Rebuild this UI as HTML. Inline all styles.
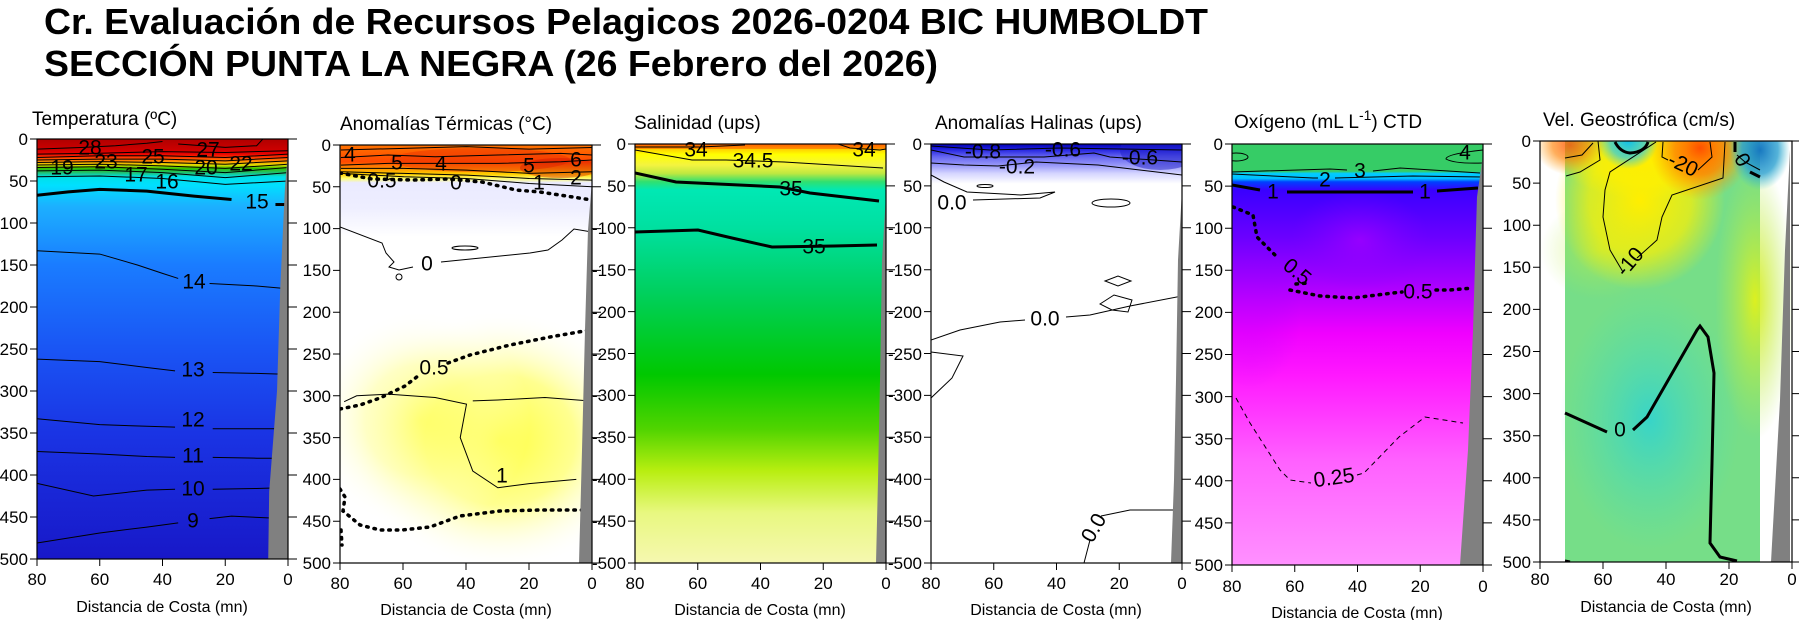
<!DOCTYPE html>
<html><head><meta charset="utf-8"><style>
html,body{margin:0;padding:0;background:#fff;}
svg{display:block;font-family:"Liberation Sans",Arial,sans-serif;}
.ln{fill:none;stroke:#000;stroke-width:1;}
.th{fill:none;stroke:#000;stroke-width:3;}
.dt{fill:none;stroke:#000;stroke-width:3.5;stroke-dasharray:1.5 6;stroke-linecap:round;}
.ds{fill:none;stroke:#000;stroke-width:1;stroke-dasharray:5 4;}
.lb{font-size:21px;text-anchor:middle;dominant-baseline:central;fill:#000;}
.tk{font-size:17px;fill:#000;}
.ax{font-size:16px;fill:#000;text-anchor:middle;}
.pt{font-size:19px;fill:#000;}
.fr{fill:none;stroke:#000;stroke-width:1.2;}
.gray{fill:#808080;}
</style></head><body>
<svg width="1799" height="620" viewBox="0 0 1799 620" xmlns="http://www.w3.org/2000/svg">
<defs>
<linearGradient id="g1" x1="0" y1="0" x2="0" y2="1">
<stop offset="0" stop-color="#b00000"/><stop offset="0.025" stop-color="#cc0000"/><stop offset="0.035" stop-color="#e80000"/>
<stop offset="0.045" stop-color="#ff4000"/><stop offset="0.055" stop-color="#ffa000"/><stop offset="0.062" stop-color="#e0e000"/>
<stop offset="0.07" stop-color="#30c000"/><stop offset="0.08" stop-color="#20c070"/><stop offset="0.09" stop-color="#00e0e8"/>
<stop offset="0.11" stop-color="#00e0ff"/><stop offset="0.16" stop-color="#1cb0ff"/><stop offset="0.3" stop-color="#1a7cff"/>
<stop offset="0.5" stop-color="#1a55f4"/><stop offset="0.7" stop-color="#1a34e4"/><stop offset="1" stop-color="#1818c8"/>
</linearGradient>
<linearGradient id="g2" x1="0" y1="0" x2="0" y2="1">
<stop offset="0" stop-color="#ff7400"/><stop offset="0.04" stop-color="#ff4800"/><stop offset="0.055" stop-color="#ff8c00"/>
<stop offset="0.07" stop-color="#ffd000"/><stop offset="0.08" stop-color="#ffff70"/><stop offset="0.09" stop-color="#eaeaff"/>
<stop offset="0.15" stop-color="#eeeeff"/><stop offset="0.22" stop-color="#ffffff"/><stop offset="1" stop-color="#ffffff"/>
</linearGradient>
<radialGradient id="g2y" cx="0.5" cy="0.5" r="0.5">
<stop offset="0" stop-color="#ffff40"/><stop offset="0.5" stop-color="#ffff90"/><stop offset="1" stop-color="#ffffff" stop-opacity="0"/>
</radialGradient>
<linearGradient id="g3" x1="0" y1="0" x2="0" y2="1">
<stop offset="0" stop-color="#ff5000"/><stop offset="0.012" stop-color="#ffd000"/><stop offset="0.025" stop-color="#ffff00"/>
<stop offset="0.05" stop-color="#f4f440"/><stop offset="0.07" stop-color="#c0e840"/><stop offset="0.09" stop-color="#30e070"/>
<stop offset="0.11" stop-color="#00e8b4"/><stop offset="0.2" stop-color="#00e0a0"/><stop offset="0.35" stop-color="#00d060"/>
<stop offset="0.55" stop-color="#00c800"/><stop offset="0.68" stop-color="#50d400"/><stop offset="0.78" stop-color="#b8ee10"/>
<stop offset="0.88" stop-color="#e8f880"/><stop offset="1" stop-color="#f6f8b0"/>
</linearGradient>
<linearGradient id="g4" x1="0" y1="0" x2="0" y2="1">
<stop offset="0" stop-color="#0000b0"/><stop offset="0.012" stop-color="#2020e0"/><stop offset="0.03" stop-color="#6464f0"/>
<stop offset="0.05" stop-color="#9696f8"/><stop offset="0.07" stop-color="#d4d4ff"/><stop offset="0.095" stop-color="#ffffff"/><stop offset="1" stop-color="#ffffff"/>
</linearGradient>
<linearGradient id="g5" x1="0" y1="0" x2="0" y2="1">
<stop offset="0" stop-color="#36cc66"/><stop offset="0.065" stop-color="#36cc66"/><stop offset="0.07" stop-color="#00ccff"/>
<stop offset="0.082" stop-color="#00c0ff"/><stop offset="0.09" stop-color="#0040ff"/><stop offset="0.11" stop-color="#3a00ff"/>
<stop offset="0.22" stop-color="#6a00ff"/><stop offset="0.32" stop-color="#a000ff"/><stop offset="0.45" stop-color="#f000ff"/>
<stop offset="0.55" stop-color="#ff18ff"/><stop offset="0.75" stop-color="#ff60ff"/><stop offset="1" stop-color="#ff90ff"/>
</linearGradient>
<radialGradient id="rY" cx="0.5" cy="0.5" r="0.5"><stop offset="0" stop-color="#ffee00"/><stop offset="0.6" stop-color="#fff000" stop-opacity="0.7"/><stop offset="1" stop-color="#fff000" stop-opacity="0"/></radialGradient>
<radialGradient id="rO" cx="0.5" cy="0.5" r="0.5"><stop offset="0" stop-color="#ff5000"/><stop offset="0.5" stop-color="#ff8000" stop-opacity="0.8"/><stop offset="1" stop-color="#ffa000" stop-opacity="0"/></radialGradient>
<radialGradient id="rC" cx="0.5" cy="0.5" r="0.5"><stop offset="0" stop-color="#10c0e8"/><stop offset="0.6" stop-color="#40d0d0" stop-opacity="0.8"/><stop offset="1" stop-color="#60d0c0" stop-opacity="0"/></radialGradient>
<radialGradient id="rB" cx="0.5" cy="0.5" r="0.5"><stop offset="0" stop-color="#1878c0"/><stop offset="0.6" stop-color="#2aa0d0" stop-opacity="0.8"/><stop offset="1" stop-color="#40c0d0" stop-opacity="0"/></radialGradient>
<radialGradient id="rT" cx="0.5" cy="0.5" r="0.5"><stop offset="0" stop-color="#38d4c8"/><stop offset="1" stop-color="#50dcb0" stop-opacity="0"/></radialGradient>
<radialGradient id="rG" cx="0.5" cy="0.5" r="0.5"><stop offset="0" stop-color="#dcf020"/><stop offset="1" stop-color="#b0ea50" stop-opacity="0"/></radialGradient>
<radialGradient id="rV" cx="0.5" cy="0.5" r="0.5"><stop offset="0" stop-color="#b000ff"/><stop offset="1" stop-color="#8000ff" stop-opacity="0"/></radialGradient>
<clipPath id="c1"><rect x="37" y="139" width="251" height="420"/></clipPath>
<clipPath id="c2"><rect x="340" y="145" width="252" height="418"/></clipPath>
<clipPath id="c3"><rect x="635" y="144" width="251" height="419"/></clipPath>
<clipPath id="c4"><rect x="931" y="144" width="251" height="419"/></clipPath>
<clipPath id="c5"><rect x="1232" y="144" width="251" height="421"/></clipPath>
<clipPath id="c6"><rect x="1540" y="141" width="252" height="421"/></clipPath>
</defs>

<text x="44" y="34" font-size="36" font-weight="bold" textLength="1164" lengthAdjust="spacingAndGlyphs">Cr. Evaluación de Recursos Pelagicos 2026-0204 BIC HUMBOLDT</text>
<text x="44" y="76" font-size="36" font-weight="bold" textLength="894" lengthAdjust="spacingAndGlyphs">SECCIÓN PUNTA LA NEGRA (26 Febrero del 2026)</text>

<text class="pt" x="32" y="125">Temperatura (ºC)</text>
<text class="pt" x="340" y="130">Anomalías Térmicas (°C)</text>
<text class="pt" x="634" y="129">Salinidad (ups)</text>
<text class="pt" x="935" y="129">Anomalías Halinas (ups)</text>
<text class="pt" x="1234" y="128">Oxígeno (mL L<tspan dy="-8" font-size="14">-1</tspan><tspan dy="8">) CTD</tspan></text>
<text class="pt" x="1543" y="126">Vel. Geostrófica (cm/s)</text>

<!-- Panel 1 -->
<g clip-path="url(#c1)">
<rect x="37" y="139" width="251" height="420" fill="url(#g1)"/>
<g transform="translate(288,139) scale(-3.1375,0.84)">
<polyline class="ln" vector-effect="non-scaling-stroke" points="80,12 65,10 55,8 45,5 40,3"/>
<polyline class="ln" vector-effect="non-scaling-stroke" points="35,6 20,10 10,8 8,0"/>
<polyline class="ln" vector-effect="non-scaling-stroke" points="80,18 60,17 40,15 20,16 0,14"/>
<polyline class="ln" vector-effect="non-scaling-stroke" points="80,22 60,20 40,20 20,22 0,18"/>
<polyline class="ln" vector-effect="non-scaling-stroke" points="80,25 60,24 40,24 20,26 0,22"/>
<polyline class="ln" vector-effect="non-scaling-stroke" points="80,28 60,27 40,28 20,30 0,26"/>
<polyline class="ln" vector-effect="non-scaling-stroke" points="80,31 60,30 40,32 20,35 0,30"/>
<polyline class="ln" vector-effect="non-scaling-stroke" points="80,34 60,33 40,36 20,40 0,34"/>
<polyline class="ln" vector-effect="non-scaling-stroke" points="80,38 60,37 40,40 20,46 0,40"/>
<polyline class="ln" vector-effect="non-scaling-stroke" points="80,45 60,44 40,47 20,54 0,50"/>
<polyline class="th" vector-effect="non-scaling-stroke" points="80,67 70,63 60,60 45,62 30,68 18,72"/>
<polyline class="th" vector-effect="non-scaling-stroke" points="4,78 1,78"/>
<polyline class="ln" vector-effect="non-scaling-stroke" points="80,133 60,137 48,150 40,160 35,166"/>
<polyline class="ln" vector-effect="non-scaling-stroke" points="25,172 10,175 1,178"/>
<polyline class="ln" vector-effect="non-scaling-stroke" points="80,262 60,265 45,272 36,276"/>
<polyline class="ln" vector-effect="non-scaling-stroke" points="24,278 10,279 1,280"/>
<polyline class="ln" vector-effect="non-scaling-stroke" points="80,333 60,340 45,342 36,343"/>
<polyline class="ln" vector-effect="non-scaling-stroke" points="24,345 10,345 1,345"/>
<polyline class="ln" vector-effect="non-scaling-stroke" points="80,372 60,375 45,378 36,379"/>
<polyline class="ln" vector-effect="non-scaling-stroke" points="24,379 10,380 1,380"/>
<polyline class="ln" vector-effect="non-scaling-stroke" points="80,410 62,425 45,418 36,417"/>
<polyline class="ln" vector-effect="non-scaling-stroke" points="24,417 10,416 1,415"/>
<polyline class="ln" vector-effect="non-scaling-stroke" points="80,481 60,469 45,462 35,457"/>
<polyline class="ln" vector-effect="non-scaling-stroke" points="25,452 18,449 1,452"/>
<polygon class="gray" points="0,12 1,60 2.5,180 3.5,300 6,420 6.3,500 0,500"/>
</g>
</g>
<g>
<text class="lb" x="90" y="148">28</text><text class="lb" x="208" y="150">27</text>
<text class="lb" x="153" y="157">25</text><text class="lb" x="106" y="162">23</text>
<text class="lb" x="241" y="164">22</text><text class="lb" x="206" y="168">20</text>
<text class="lb" x="62" y="168">19</text><text class="lb" x="136" y="175">17</text>
<text class="lb" x="167" y="182">16</text><text class="lb" x="257" y="202">15</text>
<text class="lb" x="194" y="282">14</text><text class="lb" x="193" y="370">13</text>
<text class="lb" x="193" y="420">12</text><text class="lb" x="193" y="456">11</text>
<text class="lb" x="193" y="489">10</text><text class="lb" x="193" y="521">9</text>
</g>

<!-- Panel 2 -->
<g clip-path="url(#c2)">
<rect x="340" y="145" width="252" height="418" fill="url(#g2)"/>
<ellipse cx="500" cy="440" rx="150" ry="130" fill="url(#g2y)"/>
<ellipse cx="420" cy="420" rx="110" ry="110" fill="url(#g2y)" opacity="0.5"/>
<ellipse cx="480" cy="160" rx="90" ry="12" fill="#e83000" opacity="0.45"/>
<ellipse cx="560" cy="168" rx="40" ry="10" fill="#d01000" opacity="0.4"/>
<g transform="translate(592,145) scale(-3.1375,0.836)">
<polyline class="ln" vector-effect="non-scaling-stroke" points="80,6 60,4 40,2 20,5 0,3"/>
<polyline class="ln" vector-effect="non-scaling-stroke" points="80,15 65,12 50,14 30,12 10,10 0,12"/>
<polyline class="ln" vector-effect="non-scaling-stroke" points="80,24 65,22 50,22 30,22 10,20 0,18"/>
<polyline class="ln" vector-effect="non-scaling-stroke" points="80,28 60,28 40,30 20,34 0,32"/>
<polyline class="ln" vector-effect="non-scaling-stroke" points="80,32 60,34 40,36 20,40 0,42"/>
<polyline class="ln" vector-effect="non-scaling-stroke" points="80,34 60,38 40,40 20,46 0,50"/>
<polyline class="ln" vector-effect="non-scaling-stroke" points="79,307 75,300 65,298 50,302 40,310 42,350 38,390 30,410 20,405 5,400"/>
<polyline class="ln" vector-effect="non-scaling-stroke" points="38,306 30,305 15,302 1,306"/>
</g>
<polyline class="dt" points="340,173 372,179 413,180 448,179 482,182 516,190 540,192 592,200"/>
<polyline class="ln" points="340,227 382,243 386,253 394,262 389,267 399,270 413,267"/>
<polyline class="ln" points="441,262 530,253 548,250 562,240 574,229 592,232"/>
<ellipse class="ln" cx="465" cy="248" rx="13" ry="2"/>
<circle class="ln" cx="399" cy="277" r="3"/>
<polyline class="dt" points="340,409 360,405 380,398 405,386 418,376"/>
<polyline class="dt" points="448,363 470,355 510,345 550,337 590,330"/>
<polyline class="dt" points="340,489 345,497 343,511 360,525 380,530 402,530 430,527 460,516 500,511 540,510 592,510"/>
<polyline class="dt" points="341,530 342,545"/>
<polygon class="gray" points="592,180 588,230 585,330 582,450 579,563 592,563"/>
</g>
<g>
<text class="lb" x="350" y="155">4</text><text class="lb" x="397" y="163">5</text>
<text class="lb" x="441" y="164">4</text><text class="lb" x="529" y="166">5</text>
<text class="lb" x="576" y="160">6</text><text class="lb" x="576" y="178">2</text>
<text class="lb" x="539" y="183">1</text><text class="lb" x="382" y="181">0.5</text>
<text class="lb" x="456" y="183">0</text><text class="lb" x="427" y="264">0</text>
<text class="lb" x="434" y="368">0.5</text><text class="lb" x="502" y="476">1</text>
</g>

<!-- Panel 3 -->
<g clip-path="url(#c3)">
<rect x="635" y="144" width="251" height="419" fill="url(#g3)"/>
<rect x="635" y="144" width="251" height="5" fill="#ff6a00" opacity="0.6"/>
<polyline class="ln" points="635,147 700,147 745,145"/>
<polyline class="ln" points="838,144 850,148 880,150 886,149"/>
<polyline class="ln" points="635,150 692,160 726,160 784,162 883,168"/>
<polyline class="th" points="635,173 676,182 780,187 810,193 879,201"/>
<polyline class="th" points="635,232 698,230 732,238 772,247 834,246 877,245"/>
<polygon class="gray" points="886,195 882,260 880,380 878,480 876,563 886,563"/>
</g>
<g>
<text class="lb" x="696" y="150">34</text><text class="lb" x="864" y="150">34</text>
<text class="lb" x="753" y="161">34.5</text><text class="lb" x="791" y="189">35</text>
<text class="lb" x="814" y="247">35</text>
</g>

<!-- Panel 4 -->
<g clip-path="url(#c4)">
<rect x="931" y="144" width="251" height="419" fill="url(#g4)"/>
<ellipse cx="1160" cy="150" rx="40" ry="20" fill="#2020c8" opacity="0.5"/>
<polyline class="ln" points="931,146 990,150 1060,148 1182,150"/>
<polyline class="ln" points="931,150 964,157 1044,157 1094,153 1110,157 1182,162"/>
<polyline class="ln" points="931,163 964,165 998,166 1036,162 1098,165 1182,175"/>
<polyline class="ln" points="931,175 944,182 967,192 1021,195 1055,192 1040,198 973,200"/>
<ellipse class="ln" cx="1111" cy="203" rx="19" ry="4"/>
<ellipse class="ln" cx="985" cy="186" rx="8" ry="1.5"/>
<polygon class="ln" points="1105,281 1118,276 1131,281 1118,286"/>
<polygon class="ln" points="1100,304 1114,295 1132,300 1128,312 1112,310"/>
<polyline class="ln" points="931,340 960,330 1000,322 1025,320"/>
<polyline class="ln" points="1066,317 1090,315 1130,306 1182,296"/>
<polyline class="ln" points="931,352 963,356 952,378 931,398"/>
<polyline class="ln" points="1084,563 1090,540"/>
<polyline class="ln" points="1101,516 1130,510 1182,510"/>
<polygon class="gray" points="1182,190 1178,260 1176,380 1174,480 1171,563 1182,563"/>
</g>
<g>
<text class="lb" x="983" y="152">-0.8</text><text class="lb" x="1063" y="150">-0.6</text>
<text class="lb" x="1140" y="158">-0.6</text><text class="lb" x="1017" y="167">-0.2</text>
<text class="lb" x="952" y="203">0.0</text><text class="lb" x="1045" y="319">0.0</text>
<text class="lb" x="1094" y="528" transform="rotate(-60 1094 528)">0.0</text>
</g>

<!-- Panel 5 -->
<g clip-path="url(#c5)">
<rect x="1232" y="144" width="251" height="421" fill="url(#g5)"/>
<ellipse cx="1360" cy="240" rx="70" ry="50" fill="url(#rV)" opacity="0.6"/>
<ellipse cx="1250" cy="320" rx="50" ry="70" fill="url(#rV)" opacity="0.25"/>
<ellipse class="ln" cx="1236" cy="157" rx="12" ry="4"/>
<path class="ln" d="M1483,150 Q1446,154 1446,159 Q1455,164 1483,163"/>
<polyline class="ln" points="1232,172 1330,169 1347,170"/><polyline class="ln" points="1373,171 1400,168 1480,173"/>
<polyline class="ln" points="1232,174 1313,178 1318,178"/><polyline class="ln" points="1335,178 1413,176 1483,177"/>
<polyline class="th" points="1232,185 1260,190"/><polyline class="th" points="1287,192 1413,192"/><polyline class="th" points="1437,191 1478,188"/>
<polyline class="dt" points="1233,207 1253,215 1257,237 1277,257"/>
<polyline class="dt" points="1290,290 1320,296 1353,298 1393,293 1402,292"/>
<polyline class="dt" points="1436,290 1450,290 1473,288"/>
<polyline class="dt" points="1296,284 1308,283"/>
<polyline class="ds" points="1236,398 1250,423 1280,470 1290,480 1311,483"/>
<polyline class="ds" points="1357,475 1364,473 1399,437 1425,417 1463,423"/>
<polygon class="gray" points="1483,155 1477,197 1473,330 1468,450 1460,565 1483,565"/>
</g>
<g>
<text class="lb" x="1465" y="153">4</text><text class="lb" x="1360" y="171">3</text>
<text class="lb" x="1325" y="180">2</text><text class="lb" x="1273" y="192">1</text>
<text class="lb" x="1425" y="192">1</text>
<text class="lb" x="1297" y="272" transform="rotate(40 1297 272)">0.5</text>
<text class="lb" x="1418" y="292">0.5</text>
<text class="lb" x="1334" y="478" transform="rotate(-8 1334 478)">0.25</text>
</g>

<!-- Panel 6 -->
<g clip-path="url(#c6)">
<rect x="1565" y="141" width="195" height="421" fill="#76de88"/>
<ellipse cx="1650" cy="420" rx="90" ry="130" fill="url(#rT)"/>
<ellipse cx="1755" cy="300" rx="40" ry="140" fill="url(#rG)"/>
<ellipse cx="1600" cy="250" rx="60" ry="50" fill="url(#rG)" opacity="0.5"/>
<ellipse cx="1640" cy="200" rx="85" ry="90" fill="url(#rY)"/>
<ellipse cx="1650" cy="160" rx="90" ry="40" fill="url(#rY)"/>
<ellipse cx="1700" cy="150" rx="50" ry="50" fill="url(#rO)"/>
<ellipse cx="1700" cy="148" rx="28" ry="25" fill="url(#rO)"/>
<ellipse cx="1570" cy="145" rx="35" ry="30" fill="url(#rO)" opacity="0.8"/>
<ellipse cx="1628" cy="141" rx="30" ry="28" fill="url(#rC)"/>
<ellipse cx="1760" cy="150" rx="30" ry="40" fill="url(#rB)"/>
<polyline class="ln" points="1656,142 1610,172 1605,190 1603,217 1610,250 1623,272"/>
<polyline class="ln" points="1637,258 1657,240 1662,217 1672,195 1723,178 1725,142"/>
<polyline class="ln" points="1663,142 1662,157 1668,160"/><polyline class="ln" points="1698,170 1712,157 1710,142"/>
<polyline class="ln" points="1565,158 1582,155 1593,143"/>
<polyline class="ln" points="1598,141 1600,160 1580,172 1566,176"/>
<path class="th" d="M1615,142 Q1620,152 1630,153 Q1645,152 1648,142"/>
<polyline class="th" points="1735,142 1735,152"/>
<polyline class="ln" points="1737,155 1745,162 1760,170"/>
<polyline class="th" points="1750,172 1760,177"/>
<polyline class="th" points="1565,413 1607,432"/>
<polyline class="th" points="1633,430 1647,417 1678,363 1697,330 1700,326 1708,337 1714,373 1712,463 1710,543 1720,557 1737,561"/>
<polyline class="th" points="1565,561 1570,562"/>
</g>
<polygon class="gray" points="1790,150 1785,250 1780,400 1771,562 1790,562"/>
<g>
<text class="lb" x="1683" y="165" transform="rotate(25 1683 165)">-20</text>
<text class="lb" x="1630" y="262" transform="rotate(-50 1630 262)">-10</text>
<text class="lb" x="1742" y="160" transform="rotate(60 1742 160)">0</text>
<text class="lb" x="1620" y="430">0</text>
</g>

<g id="axes">
<rect class="fr" x="37" y="139" width="251" height="420"/>
<path class="ln" d="M30,139h7M30,181h7M30,223h7M30,265h7M30,307h7M30,349h7M30,391h7M30,433h7M30,475h7M30,517h7M30,559h7
M288,139h9M288,181h9M288,223h9M288,265h9M288,307h9M288,349h9M288,391h9M288,433h9M288,475h9M288,517h9M288,559h9
M37,559v7M99.75,559v7M162.5,559v7M225.25,559v7M288,559v7"/>
<g class="tk" text-anchor="end">
<text x="28" y="145">0</text><text x="28" y="187">50</text><text x="28" y="229">100</text><text x="28" y="271">150</text><text x="28" y="313">200</text><text x="28" y="355">250</text><text x="28" y="397">300</text><text x="28" y="439">350</text><text x="28" y="481">400</text><text x="28" y="523">450</text><text x="28" y="565">500</text>
</g>
<g class="tk" text-anchor="middle"><text x="37" y="585">80</text><text x="99.75" y="585">60</text><text x="162.5" y="585">40</text><text x="225.25" y="585">20</text><text x="288" y="585">0</text></g>
<text class="ax" x="162" y="612">Distancia de Costa (mn)</text>

<rect class="fr" x="340" y="145" width="252" height="418"/>
<path class="ln" d="M333,145h7M333,186.8h7M333,228.6h7M333,270.4h7M333,312.2h7M333,354h7M333,395.8h7M333,437.6h7M333,479.4h7M333,521.2h7M333,563h7
M592,145h9M592,186.8h9M592,228.6h9M592,270.4h9M592,312.2h9M592,354h9M592,395.8h9M592,437.6h9M592,479.4h9M592,521.2h9M592,563h9
M340,563v7M403,563v7M466,563v7M529,563v7M592,563v7"/>
<g class="tk" text-anchor="end">
<text x="331" y="151">0</text><text x="331" y="193">50</text><text x="331" y="234">100</text><text x="331" y="276">150</text><text x="331" y="318">200</text><text x="331" y="360">250</text><text x="331" y="402">300</text><text x="331" y="444">350</text><text x="331" y="485">400</text><text x="331" y="527">450</text><text x="331" y="569">500</text>
</g>
<g class="tk" text-anchor="middle"><text x="340" y="589">80</text><text x="403" y="589">60</text><text x="466" y="589">40</text><text x="529" y="589">20</text><text x="592" y="589">0</text></g>
<text class="ax" x="466" y="615">Distancia de Costa (mn)</text>

<rect class="fr" x="635" y="144" width="251" height="419"/>
<path class="ln" d="M628,144h7M628,185.9h7M628,227.8h7M628,269.7h7M628,311.6h7M628,353.5h7M628,395.4h7M628,437.3h7M628,479.2h7M628,521.1h7M628,563h7
M886,144h9M886,185.9h9M886,227.8h9M886,269.7h9M886,311.6h9M886,353.5h9M886,395.4h9M886,437.3h9M886,479.2h9M886,521.1h9M886,563h9
M635,563v7M697.75,563v7M760.5,563v7M823.25,563v7M886,563v7"/>
<g class="tk" text-anchor="end">
<text x="626" y="150">0</text><text x="626" y="192">50</text><text x="626" y="234">-100</text><text x="626" y="276">-150</text><text x="626" y="318">-200</text><text x="626" y="360">-250</text><text x="626" y="401">-300</text><text x="626" y="443">-350</text><text x="626" y="485">-400</text><text x="626" y="527">-450</text><text x="626" y="569">-500</text>
</g>
<g class="tk" text-anchor="middle"><text x="635" y="589">80</text><text x="697.75" y="589">60</text><text x="760.5" y="589">40</text><text x="823.25" y="589">20</text><text x="886" y="589">0</text></g>
<text class="ax" x="760" y="615">Distancia de Costa (mn)</text>

<rect class="fr" x="931" y="144" width="251" height="419"/>
<path class="ln" d="M924,144h7M924,185.9h7M924,227.8h7M924,269.7h7M924,311.6h7M924,353.5h7M924,395.4h7M924,437.3h7M924,479.2h7M924,521.1h7M924,563h7
M1182,144h9M1182,185.9h9M1182,227.8h9M1182,269.7h9M1182,311.6h9M1182,353.5h9M1182,395.4h9M1182,437.3h9M1182,479.2h9M1182,521.1h9M1182,563h9
M931,563v7M993.75,563v7M1056.5,563v7M1119.25,563v7M1182,563v7"/>
<g class="tk" text-anchor="end">
<text x="922" y="150">0</text><text x="922" y="192">50</text><text x="922" y="234">-100</text><text x="922" y="276">-150</text><text x="922" y="318">-200</text><text x="922" y="360">-250</text><text x="922" y="401">-300</text><text x="922" y="443">-350</text><text x="922" y="485">-400</text><text x="922" y="527">-450</text><text x="922" y="569">-500</text>
</g>
<g class="tk" text-anchor="middle"><text x="931" y="589">80</text><text x="993.75" y="589">60</text><text x="1056.5" y="589">40</text><text x="1119.25" y="589">20</text><text x="1182" y="589">0</text></g>
<text class="ax" x="1056" y="615">Distancia de Costa (mn)</text>

<rect class="fr" x="1232" y="144" width="251" height="421"/>
<path class="ln" d="M1225,144h7M1225,186.1h7M1225,228.2h7M1225,270.3h7M1225,312.4h7M1225,354.5h7M1225,396.6h7M1225,438.7h7M1225,480.8h7M1225,522.9h7M1225,565h7
M1483,144h9M1483,186.1h9M1483,228.2h9M1483,270.3h9M1483,312.4h9M1483,354.5h9M1483,396.6h9M1483,438.7h9M1483,480.8h9M1483,522.9h9M1483,565h9
M1232,565v7M1294.75,565v7M1357.5,565v7M1420.25,565v7M1483,565v7"/>
<g class="tk" text-anchor="end">
<text x="1223" y="150">0</text><text x="1223" y="192">50</text><text x="1223" y="234">100</text><text x="1223" y="276">150</text><text x="1223" y="318">200</text><text x="1223" y="360">250</text><text x="1223" y="403">300</text><text x="1223" y="445">350</text><text x="1223" y="487">400</text><text x="1223" y="529">450</text><text x="1223" y="571">500</text>
</g>
<g class="tk" text-anchor="middle"><text x="1232" y="592">80</text><text x="1294.75" y="592">60</text><text x="1357.5" y="592">40</text><text x="1420.25" y="592">20</text><text x="1483" y="592">0</text></g>
<text class="ax" x="1357" y="618">Distancia de Costa (mn)</text>

<rect class="fr" x="1540" y="141" width="252" height="421"/>
<path class="ln" d="M1533,141h7M1533,183.1h7M1533,225.2h7M1533,267.3h7M1533,309.4h7M1533,351.5h7M1533,393.6h7M1533,435.7h7M1533,477.8h7M1533,519.9h7M1533,562h7
M1792,141h9M1792,183.1h9M1792,225.2h9M1792,267.3h9M1792,309.4h9M1792,351.5h9M1792,393.6h9M1792,435.7h9M1792,477.8h9M1792,519.9h9M1792,562h9
M1540,562v7M1603,562v7M1666,562v7M1729,562v7M1792,562v7"/>
<g class="tk" text-anchor="end">
<text x="1531" y="147">0</text><text x="1531" y="189">50</text><text x="1531" y="231">100</text><text x="1531" y="273">150</text><text x="1531" y="315">200</text><text x="1531" y="357">250</text><text x="1531" y="400">300</text><text x="1531" y="442">350</text><text x="1531" y="484">400</text><text x="1531" y="526">450</text><text x="1531" y="568">500</text>
</g>
<g class="tk" text-anchor="middle"><text x="1540" y="585">80</text><text x="1603" y="585">60</text><text x="1666" y="585">40</text><text x="1729" y="585">20</text><text x="1792" y="585">0</text></g>
<text class="ax" x="1666" y="612">Distancia de Costa (mn)</text>
</g>
</svg>
</body></html>
